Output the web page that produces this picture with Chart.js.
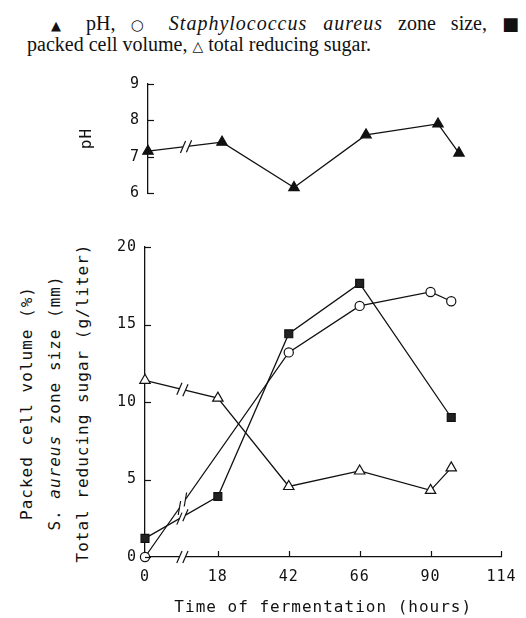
<!DOCTYPE html>
<html>
<head>
<meta charset="utf-8">
<script src="https://cdn.jsdelivr.net/npm/chart.js@4.4.1/dist/chart.umd.min.js"></script>
<style>
  html, body { margin: 0; padding: 0; background: #fff; }
  body { width: 526px; height: 618px; position: relative; overflow: hidden; }
  .cap { position: absolute; font: 20px/21px "Liberation Serif", serif; color: #111; white-space: nowrap; }
  .cap i { letter-spacing: 1px; }
  #cap1 { left: 51px; top: 13px; width: 468px; text-align: justify; text-align-last: justify; white-space: normal; }
  #cap2 { left: 27px; top: 34px; }
  .sym { font-family: "DejaVu Sans", sans-serif; }
  .s1 { font-size: 13px; }
  .s2 { font-size: 15px; }
  .s3 { font-size: 18px; }
  .s4 { font-size: 14px; }
  #ytitle {
    position: absolute; left: 55px; top: 403px; width: 360px;
    transform: translate(-50%, -50%) rotate(-90deg);
    text-align: center; font: 16px/28px "DejaVu Sans Mono", monospace; letter-spacing: 1px; color: #111;
  }
  #phWrap { position: absolute; left: 0; top: 60px; width: 526px; height: 150px; }
  #mainWrap { position: absolute; left: 0; top: 230px; width: 526px; height: 388px; }
</style>
</head>
<body>
<div id="cap1" class="cap"><span class="sym s1">▲</span> pH, <span class="sym s2">○</span> <i>Staphylococcus aureus</i> zone size, <span class="sym s3">■</span></div>
<div id="cap2" class="cap">packed cell volume, <span class="sym s4">△</span> total reducing sugar.</div>
<div id="ytitle"><div>Packed cell volume (%)</div><div>S. <i>aureus</i> zone size (mm)</div><div>Total reducing sugar (g/liter)</div></div>
<div id="phWrap"><canvas id="phChart"></canvas></div>
<div id="mainWrap"><canvas id="mainChart"></canvas></div>
<script>
// sampling times (hours)
const hours = [0, 18, 42, 66, 90, 97];
const hourTicks = [0, 18, 42, 66, 90, 114];
const xTickLabels = ['0', '18', '42', '66', '90', '114'];
const phTicks = [6, 7, 8, 9];
const mainTicks = [0, 5, 10, 15, 20];

const phValues = [7.15, 7.4, 6.15, 7.6, 7.9, 7.1];
const zoneSize = [0, null, 13.2, 16.2, 17.1, 16.5];
const cellVolume = [1.2, 3.9, 14.4, 17.65, null, 9.0];
const sugar = [11.4, 10.25, 4.55, 5.55, 4.3, 5.75];

// axis is broken between 0 and 18 h: 0 h sits left of the break
const zeroPos = -20 / 3;
const breakAt = 6;
function axisPos(h) { return h === 0 ? zeroPos : h; }
function pts(vals) { return hours.map((h, i) => ({ x: axisPos(h), y: vals[i] })); }

const ink = '#111';
const monoFont = { family: 'DejaVu Sans Mono', size: 15 };

function drawBreak(ctx, x, y, slope) {
  // white gap, then two slanted strokes
  ctx.strokeStyle = '#fff';
  ctx.lineWidth = 3.5;
  ctx.beginPath();
  ctx.moveTo(x - 3, y - 3 * slope);
  ctx.lineTo(x + 3, y + 3 * slope);
  ctx.stroke();
  const steep = Math.abs(slope) > 1;
  const dx = steep ? 1.2 : 2.6, dy = steep ? 7 : 6;
  ctx.strokeStyle = ink;
  ctx.lineWidth = 1.2;
  [-3, 3].forEach(o => {
    const px = x + o, py = y + o * slope;
    ctx.beginPath();
    ctx.moveTo(px - dx, py + dy);
    ctx.lineTo(px + dx, py - dy);
    ctx.stroke();
  });
}

const decor = {
  id: 'decor',
  beforeDraw(chart) {
    chart.ctx.letterSpacing = '1px';
  },
  afterDatasetsDraw(chart) {
    const ctx = chart.ctx, xs = chart.scales.x;
    const bx = xs.getPixelForValue(breakAt);
    ctx.save();
    chart.data.datasets.forEach((ds, i) => {
      const el = chart.getDatasetMeta(i).data;
      const j = el.findIndex((p, k) => k > 0 && !p.skip);
      const a = el[0], b = el[j];
      const slope = (b.y - a.y) / (b.x - a.x);
      drawBreak(ctx, bx, a.y + (bx - a.x) * slope, slope);
    });
    if (xs.options.display !== false) drawBreak(ctx, bx, xs.top, 0);
    ctx.restore();
  },
  afterDraw(chart) {
    const ctx = chart.ctx;
    ctx.save();
    ctx.strokeStyle = ink;
    ctx.lineWidth = 1.2;
    const xs = chart.scales.x, ys = chart.scales.y;
    if (xs.options.display !== false) {
      xs.ticks.forEach((t, k) => {
        if (k === 0) return;
        const p = Math.round(xs.getPixelForValue(t.value)) + 0.5;
        ctx.beginPath(); ctx.moveTo(p, xs.top); ctx.lineTo(p, xs.top - 6); ctx.stroke();
      });
    }
    ys.ticks.forEach(t => {
      const p = Math.round(ys.getPixelForValue(t.value)) + 0.5;
      ctx.beginPath(); ctx.moveTo(ys.right, p); ctx.lineTo(ys.right + 6, p); ctx.stroke();
    });
    ctx.restore();
  }
};

function series(vals, style, fill, radius) {
  return {
    data: pts(vals),
    borderColor: ink,
    borderWidth: 1.3,
    pointStyle: style,
    pointRadius: radius,
    pointBackgroundColor: fill,
    pointBorderColor: ink,
    pointBorderWidth: 1.2,
    spanGaps: true,
    tension: 0,
    clip: false
  };
}

function xScale(show) {
  return {
    type: 'linear',
    display: show,
    min: zeroPos,
    max: 114,
    afterBuildTicks: s => { s.ticks = hourTicks.map(h => ({ value: axisPos(h) })); },
    afterFit: s => { if (show) s.height = 61; },
    grid: { display: false, drawTicks: false },
    border: { display: true, color: ink, width: 1.3 },
    ticks: {
      color: ink, font: monoFont, padding: 11, autoSkip: false, maxRotation: 0,
      callback: v => {
        const k = hourTicks.findIndex(h => Math.abs(axisPos(h) - v) < 1e-6);
        return k >= 0 ? xTickLabels[k] : '';
      }
    },
    title: {
      display: true, text: 'Time of fermentation (hours)', color: ink,
      font: { family: 'DejaVu Sans Mono', size: 16 }, padding: { top: 0, bottom: 1 }
    }
  };
}

function yScale(ticks, width, title) {
  return {
    min: ticks[0],
    max: ticks[ticks.length - 1],
    afterBuildTicks: s => { s.ticks = ticks.map(v => ({ value: v })); },
    afterFit: s => { s.width = width; },
    grid: { display: false, drawTicks: false },
    border: { display: true, color: ink, width: 1.3 },
    ticks: { color: ink, font: monoFont, padding: 8, autoSkip: false },
    title: title
  };
}

const common = {
  responsive: true,
  maintainAspectRatio: false,
  animation: false,
  events: [],
  plugins: { legend: { display: false }, tooltip: { enabled: false } }
};

new Chart(document.getElementById('phChart'), {
  type: 'line',
  data: { datasets: [series(phValues, 'triangle', ink, 6)] },
  options: Object.assign({}, common, {
    layout: { padding: { top: 24, right: 16, bottom: 17, left: 0 } },
    scales: {
      x: xScale(false),
      y: yScale(phTicks, 148, {
        display: true, text: 'pH', color: ink,
        font: { family: 'DejaVu Sans Mono', size: 16 }, padding: { top: 77, bottom: 0 }
      })
    }
  }),
  plugins: [decor]
});

new Chart(document.getElementById('mainChart'), {
  type: 'line',
  data: {
    datasets: [
      series(zoneSize, 'circle', '#fff', 4.6),
      series(cellVolume, 'rect', '#222', 5.6),
      series(sugar, 'triangle', '#fff', 6)
    ]
  },
  options: Object.assign({}, common, {
    layout: { padding: { top: 14, right: 19, bottom: 0, left: 0 } },
    scales: {
      x: xScale(true),
      y: yScale(mainTicks, 145, { display: false })
    }
  }),
  plugins: [decor]
});
</script>
</body>
</html>
